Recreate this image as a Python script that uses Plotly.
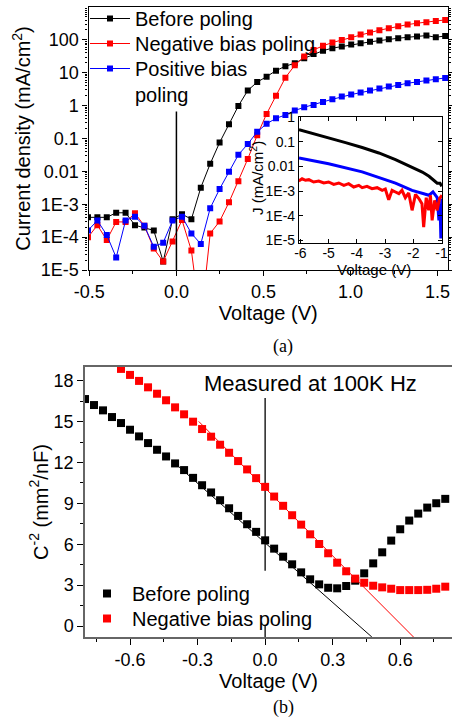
import plotly.graph_objects as go

# ---------------- (a) J-V curves ----------------
v_a = [-0.508, -0.454, -0.400, -0.346, -0.292, -0.238, -0.184, -0.130, -0.076, -0.022,
       0.032, 0.086, 0.140, 0.194, 0.248, 0.302, 0.356, 0.410, 0.464, 0.518,
       0.572, 0.626, 0.680, 0.734, 0.788, 0.842, 0.896, 0.950, 1.004, 1.058,
       1.112, 1.166, 1.220, 1.274, 1.328, 1.382, 1.436, 1.490, 1.544]
j_before = [4.0e-4, 4.0e-4, 4.0e-4, 5.5e-4, 5.5e-4, 2.3e-4, 1.95e-4, 1.6e-4, 1.8e-5, 3.5e-4,
            5.0e-4, 3.5e-4, 3.2e-3, 1.7e-2, 7.5e-2, 0.27, 0.98, 2.9, 5.2, 7.6,
            11.6, 15.8, 19.5, 27.5, 37, 47, 56, 63, 72, 79,
            87, 95, 105, 112, 120, 126, 135, 120, 132]
j_negative = [9.9e-5, 2.3e-4, 8.2e-5, 2.9e-4, 2.9e-4, 5.3e-4, 2.2e-4, 4.5e-5, 1.8e-5, 7.4e-5,
              3.3e-4, 3.9e-5, 2.5e-7, 1.3e-4, 3.0e-4, 1.15e-3, 5.0e-3, 2.4e-2, 0.126, 0.56,
              2.0, 7.1, 16.9, 31, 49.5, 66, 83, 100, 120, 145,
              167, 197, 226, 260, 292, 321, 344, 378, 405]
j_positive = [1.6e-4, 3.2e-4, 1.16e-4, 2.4e-5, 3.2e-4, 4.2e-4, 2.2e-4, 5.1e-5, 6.8e-5, 3.2e-4,
              4.2e-4, 1.3e-4, 6.2e-5, 7.6e-4, 2.9e-3, 9.8e-3, 3.2e-2, 6.8e-2, 0.16, 0.28,
              0.41, 0.52, 0.71, 0.89, 1.05, 1.30, 1.56, 1.88, 2.17, 2.49,
              2.86, 3.30, 3.79, 4.27, 4.80, 5.26, 5.78, 6.34, 6.97]
zero_a_v = [0, 0]
zero_a_j = [1e-5, 0.66]

xa_ticks = [-0.5, 0.0, 0.5, 1.0, 1.5]
xa_ticktext = ["-0.5", "0.0", "0.5", "1.0", "1.5"]
xa_minor = [-0.25, 0.25, 0.75, 1.25]
ya_ticks = [1e-5, 1e-4, 1e-3, 1e-2, 1e-1, 1, 10, 100]
ya_ticktext = ["1E-5", "1E-4", "1E-3", "0.01", "0.1", "1", "10", "100"]
ya_minor = [m * 10.0 ** e for e in range(-5, 3) for m in range(2, 10)]

# inset (reverse bias)
in_v_black = [-6.05, -5.59, -5.0, -4.4, -3.81, -3.22, -2.63, -2.04, -1.68, -1.44, -1.27, -1.15, -1.05, -0.99]
in_j_black = [0.31, 0.225, 0.146, 0.092, 0.058, 0.035, 0.0188, 0.0095, 0.0059, 0.0040, 0.0026, 0.0021, 0.0021, 0.00155]
in_v_blue = [-6.05, -5.0, -3.81, -2.63, -2.04, -1.68, -1.44, -1.30, -1.15, -1.09, -1.05, -1.02, -0.99]
in_j_blue = [0.022, 0.0129, 0.0060, 0.0021, 0.00107, 0.00079, 0.00068, 0.00093, 0.00055, 6.6e-5, 3.0e-4, 1.2e-5, 5.0e-4]
in_v_red = [-6.06, -5.94, -5.82, -5.70, -5.53, -5.35, -5.17, -5.00, -4.82, -4.64,
            -4.46, -4.29, -4.11, -3.93, -3.81, -3.64, -3.46, -3.28, -3.10, -2.99,
            -2.87, -2.75, -2.63, -2.51, -2.40, -2.28, -2.16, -2.04, -1.92, -1.80,
            -1.69, -1.63, -1.54, -1.45, -1.39, -1.33, -1.24, -1.15, -1.07, -0.98]
in_j_red = [2.57e-3, 3.16e-3, 2.74e-3, 2.91e-3, 2.34e-3, 2.57e-3, 2.13e-3, 2.34e-3, 1.88e-3, 2.13e-3,
            1.72e-3, 2.0e-3, 1.47e-3, 1.72e-3, 1.38e-3, 1.56e-3, 1.26e-3, 1.38e-3, 1.08e-3, 1.22e-3,
            4.5e-4, 1.08e-3, 9.2e-4, 7.9e-4, 1.08e-3, 5.4e-4, 8.4e-4, 1.67e-4, 7.4e-4, 5.0e-4,
            3.1e-4, 3.5e-5, 5.4e-4, 1.67e-4, 6.8e-4, 6.6e-5, 4.2e-4, 1.67e-4, 5.0e-4, 6.8e-4]
in_x_ticks = [-6, -5, -4, -3, -2, -1]
in_x_ticktext = ["-6", "-5", "-4", "-3", "-2", "-1"]
in_y_ticks = [1e-5, 1e-4, 1e-3, 1e-2, 1e-1, 1]
in_y_ticktext = ["1E-5", "1E-4", "1E-3", "0.01", "0.1", "1"]

# ---------------- (b) Mott-Schottky ----------------
v_b_before = [-0.80, -0.76, -0.72, -0.68, -0.64, -0.60, -0.56, -0.52, -0.48, -0.44,
              -0.40, -0.36, -0.32, -0.28, -0.24, -0.20, -0.16, -0.12, -0.08, -0.04,
              0.00, 0.04, 0.08, 0.12, 0.16, 0.20, 0.24, 0.28, 0.32, 0.36,
              0.40, 0.44, 0.48, 0.52, 0.56, 0.60, 0.64, 0.68, 0.72, 0.76, 0.80]
c_before = [16.65, 16.21, 15.82, 15.33, 14.89, 14.40, 13.91, 13.42, 12.93, 12.44,
            11.93, 11.44, 10.87, 10.33, 9.80, 9.23, 8.64, 8.08, 7.47, 6.91,
            6.29, 5.68, 5.09, 4.53, 3.94, 3.43, 3.06, 2.81, 2.77, 2.94,
            3.33, 3.87, 4.60, 5.41, 6.27, 7.10, 7.74, 8.25, 8.69, 9.01, 9.33]
v_b_negative = [-0.64, -0.60, -0.56, -0.52, -0.48, -0.44, -0.40, -0.36, -0.32, -0.28,
                -0.24, -0.20, -0.16, -0.12, -0.08, -0.04, 0.00, 0.04, 0.08, 0.12,
                0.16, 0.20, 0.24, 0.28, 0.32, 0.36, 0.40, 0.44, 0.48, 0.52,
                0.56, 0.60, 0.64, 0.68, 0.72, 0.76, 0.80]
c_negative = [18.86, 18.42, 17.98, 17.51, 17.04, 16.56, 16.04, 15.53, 14.99, 14.45,
              13.89, 13.30, 12.71, 12.10, 11.49, 10.85, 10.21, 9.50, 8.82, 8.13,
              7.44, 6.73, 6.02, 5.34, 4.65, 4.02, 3.48, 3.18, 2.96, 2.84,
              2.74, 2.64, 2.64, 2.64, 2.66, 2.74, 2.89]
fit_before_v = [-0.40, 0.474]
fit_before_c = [11.93, -0.80]
fit_negative_v = [-0.295, 0.659]
fit_negative_c = [15.01, -0.80]
zero_b_v = [0, 0]
zero_b_c = [4.06, 16.73]
zero_b_c_low = [-0.80, 0.0]

xb_ticks = [-0.6, -0.3, 0.0, 0.3, 0.6]
xb_ticktext = ["-0.6", "-0.3", "0.0", "0.3", "0.6"]
xb_minor = [-0.75, -0.45, -0.15, 0.15, 0.45, 0.75]
yb_ticks = [0, 3, 6, 9, 12, 15, 18]
yb_minor = [1.5, 4.5, 7.5, 10.5, 13.5, 16.5]

SANS = "Liberation Sans, Arial, sans-serif"
SERIF = "Liberation Serif, Times New Roman, serif"
BLACK, RED, BLUE = "#000000", "#ff0000", "#0000ff"
W, H = 452, 720


def px_x(p):
    return p / W


def px_y(p):
    return 1 - p / H


fig = go.Figure()

# top panel traces, each with its own legend box
for name, ys, col, lg in [("Before poling", j_before, BLACK, "legend"),
                          ("Negative bias poling", j_negative, RED, "legend3"),
                          ("Positive bias<br>poling", j_positive, BLUE, "legend4")]:
    fig.add_trace(go.Scatter(x=v_a, y=ys, name=name, mode="lines+markers",
                             line=dict(color=col, width=1),
                             marker=dict(symbol="square", size=6, color=col),
                             xaxis="x", yaxis="y", legend=lg))
fig.add_trace(go.Scatter(x=zero_a_v, y=zero_a_j, mode="lines", showlegend=False,
                         line=dict(color=BLACK, width=1.5), xaxis="x", yaxis="y"))

# inset traces
for vs, js, col in [(in_v_black, in_j_black, BLACK), (in_v_blue, in_j_blue, BLUE),
                    (in_v_red, in_j_red, RED)]:
    fig.add_trace(go.Scatter(x=vs, y=js, mode="lines", showlegend=False,
                             line=dict(color=col, width=3),
                             xaxis="x3", yaxis="y3"))

# bottom panel traces
fig.add_trace(go.Scatter(x=fit_before_v, y=fit_before_c, mode="lines", showlegend=False,
                         line=dict(color=BLACK, width=1), xaxis="x2", yaxis="y2"))
fig.add_trace(go.Scatter(x=fit_negative_v, y=fit_negative_c, mode="lines", showlegend=False,
                         line=dict(color=RED, width=1), xaxis="x2", yaxis="y2"))
fig.add_trace(go.Scatter(x=zero_b_v, y=zero_b_c, mode="lines", showlegend=False,
                         line=dict(color=BLACK, width=1.3), xaxis="x2", yaxis="y2"))
fig.add_trace(go.Scatter(x=zero_b_v, y=zero_b_c_low, mode="lines", showlegend=False,
                         line=dict(color=BLACK, width=1.3), xaxis="x2", yaxis="y2"))
fig.add_trace(go.Scatter(x=v_b_before, y=c_before, name="Before poling", mode="markers",
                         marker=dict(symbol="square", size=8, color=BLACK),
                         xaxis="x2", yaxis="y2", legend="legend2"))
fig.add_trace(go.Scatter(x=v_b_negative, y=c_negative, name="Negative bias poling", mode="markers",
                         marker=dict(symbol="square", size=8, color=RED),
                         xaxis="x2", yaxis="y2", legend="legend5"))

base = dict(showgrid=False, zeroline=False, showline=True, ticks="outside",
            tickcolor=BLACK, tickfont=dict(size=18, family=SANS))


def leg(xp, ytop):
    return dict(x=px_x(xp), y=px_y(ytop), xanchor="left", yanchor="top",
                bgcolor="rgba(0,0,0,0)", font=dict(size=20, family=SANS),
                valign="top", tracegroupgap=0, itemwidth=40)


fig.update_layout(
    width=W, height=H, margin=dict(l=0, r=0, t=0, b=0, autoexpand=False),
    paper_bgcolor="white", plot_bgcolor="white",
    font=dict(family=SANS, size=18, color=BLACK),
    xaxis=dict(domain=[px_x(88.5), px_x(448)], anchor="y", range=[-0.505, 1.56],
               tickmode="array", tickvals=xa_ticks, ticktext=xa_ticktext,
               linecolor=BLACK, linewidth=1.2, ticklen=5, tickwidth=1.2, mirror=True,
               minor=dict(tickmode="array", tickvals=xa_minor, ticks="outside", ticklen=3, tickcolor=BLACK),
               title=dict(text="Voltage (V)", font=dict(size=20), standoff=0), **base),
    xaxis4=dict(overlaying="x", side="top", anchor="y", range=[-0.505, 1.56],
                tickmode="array", tickvals=xa_ticks, showticklabels=False, showline=False,
                showgrid=False, zeroline=False, ticks="inside", ticklen=5, tickwidth=1.2, tickcolor=BLACK,
                minor=dict(tickmode="array", tickvals=xa_minor, ticks="inside", ticklen=3, tickcolor=BLACK)),
    yaxis=dict(domain=[px_y(270), px_y(7)], anchor="x", type="log", range=[-5, 3],
               tickmode="array", tickvals=ya_ticks, ticktext=ya_ticktext,
               linecolor=BLACK, linewidth=1.2, ticklen=5, tickwidth=1.2, mirror="ticks",
               minor=dict(tickmode="array", tickvals=ya_minor, ticks="outside", ticklen=2, tickcolor=BLACK),
               title=dict(text="Current density (mA/cm<sup>2</sup>)", font=dict(size=20), standoff=4), **base),
    xaxis3=dict(domain=[px_x(299), px_x(442)], anchor="y3", range=[-6.05, -0.98],
                tickmode="array", tickvals=in_x_ticks, ticktext=in_x_ticktext,
                showgrid=False, zeroline=False, showline=True, linecolor=BLACK, linewidth=1.2,
                ticks="inside", ticklen=4, tickcolor=BLACK, mirror="ticks",
                ticklabelstandoff=-3,
                tickfont=dict(size=14, family=SANS)),
    yaxis3=dict(domain=[px_y(243), px_y(117)], anchor="x3", type="log", range=[-5.1, 0],
                tickmode="array", tickvals=in_y_ticks, ticktext=in_y_ticktext,
                showgrid=False, zeroline=False, showline=True, linecolor=BLACK, linewidth=1.2,
                ticks="inside", ticklen=4, tickcolor=BLACK, mirror="ticks",
                tickfont=dict(size=14, family=SANS)),
    xaxis2=dict(domain=[px_x(85), 1.0], anchor="y2", range=[-0.8, 0.83],
                tickmode="array", tickvals=xb_ticks, ticktext=xb_ticktext,
                linecolor="#666666", linewidth=1.5, ticklen=6, tickwidth=1.2, mirror=True,
                minor=dict(tickmode="array", tickvals=xb_minor, ticks="outside", ticklen=3, tickcolor=BLACK),
                title=dict(text="Voltage (V)", font=dict(size=20), standoff=1), **base),
    xaxis5=dict(overlaying="x2", side="top", anchor="y2", range=[-0.8, 0.83],
                tickmode="array", tickvals=xb_ticks, showticklabels=False, showline=False,
                showgrid=False, zeroline=False, ticks="inside", ticklen=5, tickwidth=1.2, tickcolor=BLACK),
    yaxis2=dict(domain=[px_y(637), px_y(367)], anchor="x2", range=[-0.8, 19.0],
                tickmode="array", tickvals=yb_ticks,
                linecolor="#666666", linewidth=1.5, ticklen=6, tickwidth=1.2, mirror=True,
                minor=dict(tickmode="array", tickvals=yb_minor, ticks="outside", ticklen=3, tickcolor=BLACK),
                title=dict(text="C<sup>-2</sup> (mm<sup>2</sup>/nF)", font=dict(size=20), standoff=0), **base),
    legend=leg(85, -1),
    legend3=leg(85, 24),
    legend4=leg(85, 49),
    legend2=leg(82, 574),
    legend5=leg(82, 599),
    annotations=[
        dict(text="Voltage (V)", xref="paper", yref="paper", x=px_x(374), y=px_y(269),
             xanchor="center", yanchor="middle", showarrow=False, font=dict(size=15, family=SANS)),
        dict(text="J (mA/cm<sup>2</sup>)", xref="paper", yref="paper", x=px_x(256), y=px_y(178),
             xanchor="center", yanchor="middle", textangle=-90, showarrow=False,
             font=dict(size=15, family=SANS)),
        dict(text="Measured at 100K Hz", xref="paper", yref="paper", x=px_x(202), y=px_y(383),
             xanchor="left", yanchor="middle", showarrow=False, font=dict(size=22, family=SANS)),
        dict(text="(a)", xref="paper", yref="paper", x=px_x(283), y=px_y(346),
             xanchor="center", yanchor="middle", showarrow=False, font=dict(size=18, family=SERIF)),
        dict(text="(b)", xref="paper", yref="paper", x=px_x(283), y=px_y(707),
             xanchor="center", yanchor="middle", showarrow=False, font=dict(size=18, family=SERIF)),
    ],
)

fig.write_html("out.html", config={"displayModeBar": False},
               post_script="document.body.style.margin='0';")
